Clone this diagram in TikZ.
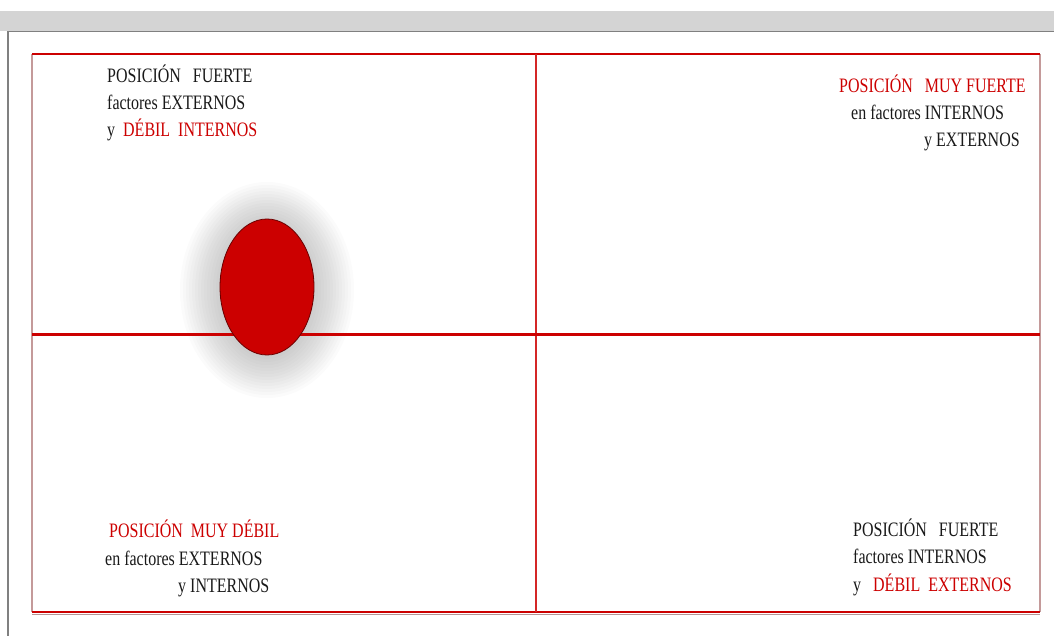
\documentclass[tikz,border=0pt]{standalone}
\usepackage{fontspec}
\setmainfont{Liberation Serif}[FakeStretch=0.78]
\usepackage{xcolor}
\usepackage{tikz}
\usetikzlibrary{shapes.geometric}
\definecolor{txtred}{HTML}{CC0000}
\definecolor{dotred}{HTML}{CC0000}
\definecolor{dotdark}{HTML}{6A0000}
\definecolor{dotlight}{HTML}{E85050}
\definecolor{bargray}{HTML}{D4D4D4}
\definecolor{edgegray}{HTML}{808080}
\definecolor{rosy}{HTML}{C49A9A}
\pgfdeclareradialshading{dotshade}{\pgfpoint{0bp}{4bp}}{color(0bp)=(dotred); color(30bp)=(dotred); color(36bp)=(dotlight); color(40bp)=(dotred); color(45bp)=(dotred); color(50bp)=(dotdark)}
\tikzset{
lbl/.style={anchor=base west, inner sep=0pt, font=\fontsize{20.5}{24}\selectfont, text=black!90},
redlbl/.style={lbl, text=txtred},
dot/.style={ellipse, minimum width=94pt, minimum height=136pt, inner sep=0pt,
shading=dotshade, draw=dotdark, line width=0.8pt},
border/.style={line width=2pt}
}

\begin{document}
\begin{tikzpicture}[x=1pt,y=-1pt]
\useasboundingbox (0,0) rectangle (1054,636);
\fill[bargray] (0,11) rectangle (1054,31);
\coordinate (g0) at (8,636);
\coordinate (g1) at (8,31.5);
\coordinate (g2) at (1054,31.5);
\draw[edgegray, line width=1.5pt] (g0) -- (g1) -- (g2);
\coordinate (nw) at (32,54);
\coordinate (ne) at (1040,54);
\coordinate (sw) at (32,612);
\coordinate (se) at (1040,612);
\coordinate (w) at (32,334);
\coordinate (e) at (1040,334);
\coordinate (n) at (536,54);
\coordinate (s) at (536,612);
\foreach \g in {40,37,...,1}
\fill[black, opacity=0.016] (267,290) ellipse ({47+\g} and {68+\g});
\draw[border, rosy] (nw) -- (sw);
\draw[border, rosy] (ne) -- (se);
\draw[rosy!80!gray, line width=1pt] ([yshift=-2pt]sw) -- ([yshift=-2pt]se);
\draw[border, txtred] (nw) -- (ne);
\draw[border, txtred] (sw) -- (se);
\draw[txtred!85!white, line width=1.3pt] (n) -- (s);
\draw[txtred, line width=3pt] (w) -- (e);
\node[dot] (dot) at (267,287) {};

\node[lbl] (tl1) at (107,83) {POSICIÓN\ \ \ FUERTE};
\node[lbl] (tl2) at (107,110) {factores EXTERNOS};
\node[lbl] (tl3) at (107,137) {y\ \ \textcolor{txtred}{DÉBIL\ \ INTERNOS}};

\node[redlbl] (tr1) at (839,93) {POSICIÓN\ \ \ MUY FUERTE};
\node[lbl] (tr2) at (851,120) {en factores INTERNOS};
\node[lbl] (tr3) at (924,147) {y EXTERNOS};

\node[redlbl] (bl1) at (109,537) {POSICIÓN\ \ MUY DÉBIL};
\node[lbl] (bl2) at (105,565) {en factores EXTERNOS};
\node[lbl] (bl3) at (178,592) {y INTERNOS};

\node[lbl] (br1) at (853,536) {POSICIÓN\ \ \ FUERTE};
\node[lbl] (br2) at (853,563) {factores INTERNOS};
\node[lbl] (br3) at (853,591) {y\ \ \ \textcolor{txtred}{DÉBIL\ \ EXTERNOS}};
\end{tikzpicture}
\end{document}
